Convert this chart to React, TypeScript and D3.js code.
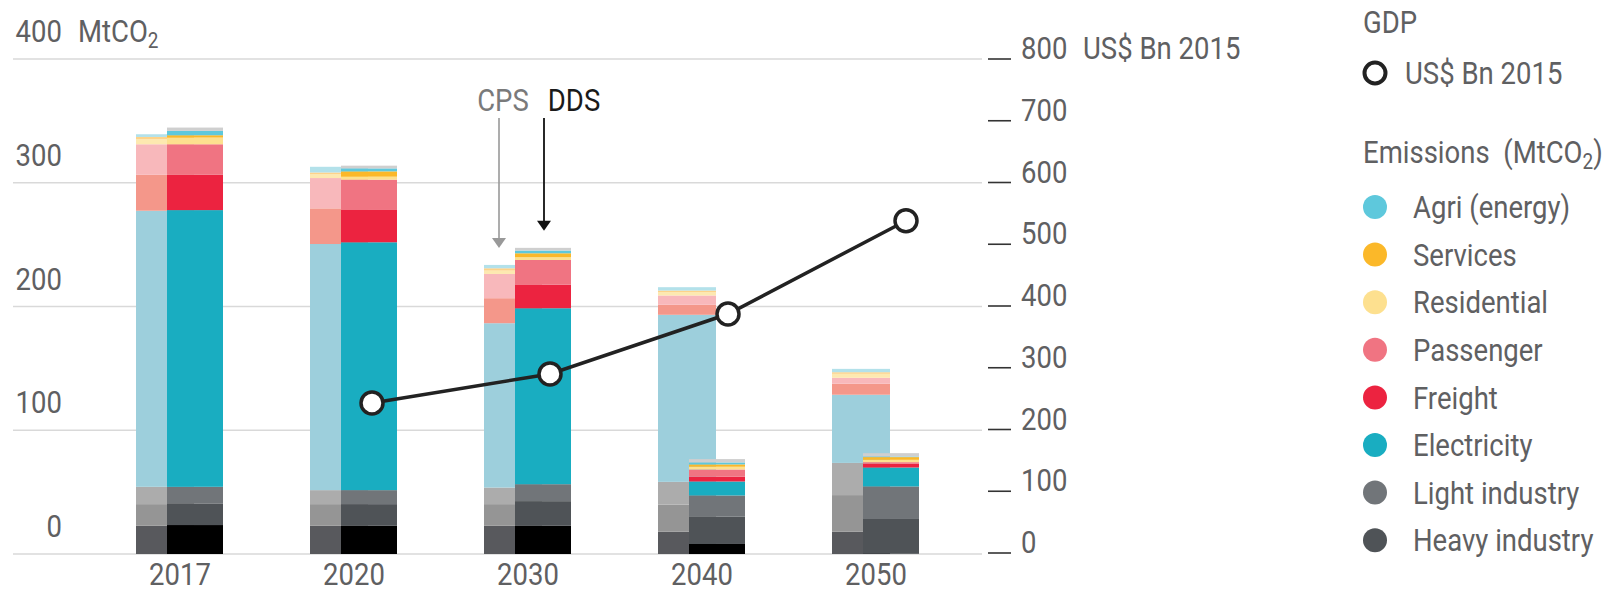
import * as d3 from "d3";
import type { ReactNode } from "react";

const years = ["2017", "2020", "2030", "2040", "2050"];

// stack order bottom -> top; "base" and "top" are unlabelled in the legend
const seriesKeys = ["base", "heavy", "light", "electricity", "freight", "passenger", "residential", "services", "agri", "top"];

const cpsBase = [22.8, 22.8, 22.8, 18.0, 18.0];
const cpsHeavy = [17.5, 17.5, 17.5, 22.0, 29.6];
const cpsLight = [14.0, 11.3, 13.4, 18.3, 26.0];
const cpsElectricity = [223.1, 198.9, 132.8, 135.0, 55.1];
const cpsFreight = [29.0, 28.8, 20.2, 8.1, 8.9];
const cpsPassenger = [24.7, 24.5, 19.6, 7.5, 4.8];
const cpsResidential = [4.0, 3.2, 2.7, 2.7, 3.2];
const cpsServices = [1.9, 1.3, 1.9, 1.3, 1.3];
const cpsAgri = [2.2, 4.6, 2.7, 2.7, 2.7];
const cpsTop = [0, 0, 0, 0, 0];

const ddsBase = [23.4, 22.8, 22.8, 8.1, 0.3];
const ddsHeavy = [17.5, 17.5, 19.9, 22.0, 28.0];
const ddsLight = [13.4, 11.3, 13.7, 17.2, 26.3];
const ddsElectricity = [223.6, 200.3, 142.2, 11.3, 15.3];
const ddsFreight = [28.5, 26.1, 19.1, 3.8, 3.0];
const ddsPassenger = [24.7, 24.5, 19.9, 5.9, 1.3];
const ddsResidential = [5.4, 2.4, 2.2, 2.2, 1.9];
const ddsServices = [1.9, 4.3, 3.2, 1.9, 2.2];
const ddsAgri = [3.5, 2.4, 2.2, 1.6, 0.5];
const ddsTop = [2.7, 2.2, 2.2, 2.7, 2.7];

const gdpYears = ["2020", "2030", "2040", "2050"];
const gdpValues = [243, 290, 387, 538];

const leftTicks = [0, 100, 200, 300, 400];
const rightTicks = [0, 100, 200, 300, 400, 500, 600, 700, 800];

const legendLabels = ["Agri (energy)", "Services", "Residential", "Passenger", "Freight", "Electricity", "Light industry", "Heavy industry"];
const legendColors = ["#5ec8dc", "#fbb829", "#fde08f", "#f07482", "#ec2340", "#19adc1", "#717579", "#4f5357"];

const cpsColors: Record<string, string> = {
  base: "#58595d", heavy: "#959595", light: "#acacac", electricity: "#9dcfdc",
  freight: "#f4978a", passenger: "#f8b8bb", residential: "#fde9b0",
  services: "#fdd38a", agri: "#b3e1ea", top: "#d4d4d4",
};
const ddsColors: Record<string, string> = {
  base: "#000000", heavy: "#4f5357", light: "#717579", electricity: "#19adc1",
  freight: "#ec2340", passenger: "#f07482", residential: "#fde08f",
  services: "#fbb829", agri: "#5ec8dc", top: "#cfcfcf",
};

const FONT = "Roboto, 'Noto Sans', sans-serif";
const TEXT = "#5f6062";
const SQUEEZE = 0.86; // fake a condensed face

function toRows(cols: number[][]) {
  return years.map((yr, i) => {
    const row: Record<string, number | string> = { year: yr };
    seriesKeys.forEach((k, j) => (row[k] = cols[j][i]));
    return row;
  });
}

const cpsRows = toRows([cpsBase, cpsHeavy, cpsLight, cpsElectricity, cpsFreight, cpsPassenger, cpsResidential, cpsServices, cpsAgri, cpsTop]);
const ddsRows = toRows([ddsBase, ddsHeavy, ddsLight, ddsElectricity, ddsFreight, ddsPassenger, ddsResidential, ddsServices, ddsAgri, ddsTop]);

function T({
  x, y, children, anchor = "start", size = 32, fill = TEXT,
}: { x: number; y: number; children: ReactNode; anchor?: string; size?: number; fill?: string }) {
  return (
    <text
      transform={`translate(${x},${y}) scale(${SQUEEZE},1)`}
      dy="0.35em"
      textAnchor={anchor}
      fontSize={size}
      fill={fill}
    >
      {children}
    </text>
  );
}

export default function App() {
  const width = 1614;
  const height = 603;

  const y = d3.scaleLinear().domain([0, 400]).range([554, 59]);
  const yR = d3.scaleLinear().domain([0, 800]).range([553, 59]);
  const x = d3.scalePoint<string>().domain(years).range([180, 876]);
  const xG = d3.scalePoint<string>().domain(years).range([194, 906]);

  const stack = d3.stack<any>().keys(seriesKeys);
  const cpsStack = stack(cpsRows as any);
  const ddsStack = stack(ddsRows as any);

  const line = d3
    .line<number>()
    .x((_, i) => xG(gdpYears[i])!)
    .y((d) => yR(d));

  const cps2030 = cpsStack[cpsStack.length - 1][2][1];
  const dds2030 = ddsStack[ddsStack.length - 1][2][1];
  const cx30 = x("2030")!;

  return (
    <svg
      width={width}
      height={height}
      style={{ position: "absolute", left: 0, top: 0, background: "#fff" }}
      fontFamily={FONT}
    >
      {/* gridlines */}
      {leftTicks.map((t) => (
        <line key={t} x1={13} x2={982} y1={y(t)} y2={y(t)} stroke="#d9d9d9" strokeWidth={1.6} />
      ))}
      {/* left labels */}
      {leftTicks.map((t) => (
        <T key={t} x={62} y={y(t) - 28} anchor="end">
          {t}
        </T>
      ))}
      <T x={78} y={y(400) - 28}>
        MtCO<tspan fontSize={22} dy={6}>2</tspan>
      </T>

      {/* right axis */}
      {rightTicks.map((t) => (
        <g key={t}>
          <line x1={988} x2={1011} y1={yR(t)} y2={yR(t)} stroke="#333" strokeWidth={1.6} />
          <T x={1021} y={yR(t) - 11}>
            {t}
          </T>
        </g>
      ))}
      <T x={1083} y={yR(800) - 11}>
        US$ Bn 2015
      </T>

      {/* CPS bars */}
      {cpsStack.map((s) =>
        s.map((d, i) => (
          <rect
            key={`c-${s.key}-${i}`}
            x={x(years[i])! - 44}
            width={58}
            y={y(d[1])}
            height={Math.max(0, y(d[0]) - y(d[1]))}
            fill={cpsColors[s.key]}
          />
        ))
      )}
      {/* DDS bars */}
      {ddsStack.map((s) =>
        s.map((d, i) => (
          <rect
            key={`d-${s.key}-${i}`}
            x={x(years[i])! - 13}
            width={56}
            y={y(d[1])}
            height={Math.max(0, y(d[0]) - y(d[1]))}
            fill={ddsColors[s.key]}
          />
        ))
      )}

      {/* year labels */}
      {years.map((yr) => (
        <T key={yr} x={x(yr)!} y={574} anchor="middle">
          {yr}
        </T>
      ))}

      {/* CPS / DDS annotation */}
      <T x={503} y={100} anchor="middle" fill="#7a7a7a">
        CPS
      </T>
      <line x1={cx30 - 29} x2={cx30 - 29} y1={118} y2={y(cps2030) - 24} stroke="#999" strokeWidth={1.6} />
      <path
        d={`M${cx30 - 36},${y(cps2030) - 27} L${cx30 - 22},${y(cps2030) - 27} L${cx30 - 29},${y(cps2030) - 17} Z`}
        fill="#999"
      />
      <T x={574} y={100} anchor="middle" fill="#1a1a1a">
        DDS
      </T>
      <line x1={cx30 + 16} x2={cx30 + 16} y1={118} y2={y(dds2030) - 24} stroke="#111" strokeWidth={1.8} />
      <path
        d={`M${cx30 + 9},${y(dds2030) - 27} L${cx30 + 23},${y(dds2030) - 27} L${cx30 + 16},${y(dds2030) - 17} Z`}
        fill="#111"
      />

      {/* GDP line */}
      <path d={line(gdpValues) || ""} fill="none" stroke="#222" strokeWidth={3.5} />
      {gdpValues.map((v, i) => (
        <circle key={i} cx={xG(gdpYears[i])!} cy={yR(v)} r={11} fill="#fff" stroke="#222" strokeWidth={3.5} />
      ))}

      {/* legend */}
      <T x={1363} y={22}>
        GDP
      </T>
      <circle cx={1375} cy={73} r={10.5} fill="#fff" stroke="#222" strokeWidth={4} />
      <T x={1405} y={73}>
        US$ Bn 2015
      </T>
      <T x={1363} y={152}>
        Emissions{"\u00a0\u00a0"}(MtCO<tspan fontSize={22} dy={6}>2</tspan>
        <tspan dy={-6}>)</tspan>
      </T>
      {legendLabels.map((l, i) => (
        <g key={l}>
          <circle cx={1375} cy={207 + i * 47.6} r={12} fill={legendColors[i]} />
          <T x={1413} y={207 + i * 47.6}>
            {l}
          </T>
        </g>
      ))}
    </svg>
  );
}
